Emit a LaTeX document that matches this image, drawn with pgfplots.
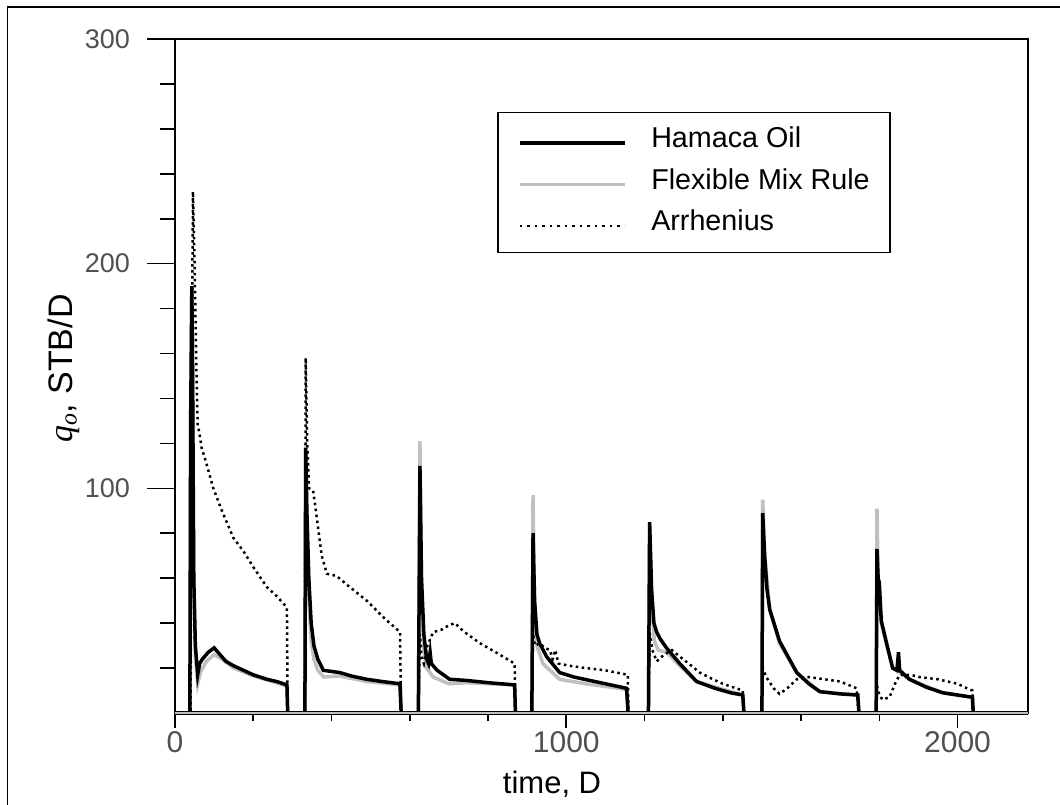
\documentclass[border=0pt]{standalone}
\usepackage{fontspec}
\setmainfont{Liberation Sans}
\newfontfamily\seriffont{Liberation Serif}
\usepackage{pgfplots}
\pgfplotsset{compat=1.18}
\definecolor{flexgray}{RGB}{192,192,192}
\definecolor{tickgray}{RGB}{80,80,80}

\begin{document}
\begin{tikzpicture}[x=1pt,y=1pt]
\useasboundingbox (0,0) rectangle (1060,804);
\fill[white] (0,0) rectangle (1060,804);
\draw[line width=1.6pt] (7.3,-5) -- (7.3,796.7) -- (1070,796.7);
\begin{axis}[
  at={(175pt,91pt)}, anchor=south west,
  width=853pt, height=674pt, scale only axis,
  xmin=0, xmax=2180, ymin=0, ymax=300,
  clip=false,
  xtick={0,1000,2000}, xticklabels={0,1000,2000},
  minor xtick={200,400,600,800,1200,1400,1600,1800},
  ytick={100,200,300}, yticklabels={100,200,300},
  minor ytick={20,40,60,80,120,140,160,180,220,240,260,280},
  tick align=outside,
  major tick length=28pt, minor tick length=15pt,
  xtick style={/pgfplots/major tick length=15pt,/pgfplots/minor tick length=8pt},
  tick style={line width=1.6pt, black},
  xtick pos=bottom, ytick pos=left,
  axis line style={line width=1.8pt},
  /pgf/number format/assume math mode=true,
  yticklabel style={font=\fontsize{27}{30}\selectfont, text=tickgray, anchor=east, inner sep=0pt, xshift=-17pt},
  xticklabel style={font=\fontsize{30}{33}\selectfont, text=tickgray, anchor=north, inner sep=0pt, yshift=10pt},
  xlabel={time, D},
  every axis x label/.style={at={(axis description cs:0.442,0)}, anchor=base, yshift=-80pt, font=\fontsize{31}{36}\selectfont},
  ylabel={{\seriffont\itshape q\textsubscript{o}}, STB/D},
  every axis y label/.style={at={(axis description cs:-0.1196,0.511)}, rotate=90, anchor=base, font=\fontsize{34}{40}\selectfont},
  legend style={at={(axis description cs:0.3775,0.8917)}, anchor=north west, draw=black, line width=1.5pt, fill=white,
    inner xsep=20pt, inner ysep=14pt, row sep=12.5pt, column sep=25pt,
    font=\fontsize{28.7}{34}\selectfont,
    nodes={inner sep=0pt, text height=21pt, text depth=8pt}},
  legend cell align=left,
  legend image code/.code={\path[draw=none,fill=none] (0pt,-14.5pt) rectangle (105pt,14.5pt); \draw[#1] (0pt,-1.8pt) -- (105pt,-1.8pt);},
]
\addlegendimage{black, line width=3.5pt}
\addlegendimage{flexgray, line width=3.5pt}
\addlegendimage{black, line width=2.5pt, dash pattern=on 2.5pt off 5pt}
\legend{Hamaca Oil, Flexible Mix Rule, Arrhenius}

% Flexible Mix Rule
\addplot[flexgray, line width=3.5pt, forget plot] coordinates {
(0,0) (36,0) (38,0) (40,130) (43,188) (45,150) (48,60) (52,25) (58,13) (65,18) (80,23) (100,26) (120,24) (150,20) (200,16.5) (250,14) (286,12) (288,0) (330,0)
(332,0) (334,120) (337,85) (342,50) (348,32) (355,24) (365,19) (380,16) (420,16.5) (490,14) (575,12.5) (578,0) (620,0)
(622,0) (626,121) (630,55) (636,28) (643,20) (660,16) (700,13) (745,13.5) (868,12.5) (870,0) (910,0)
(912,0) (915,97) (919,45) (925,30) (940,22) (983,15) (1050,13) (1154,10.5) (1158,0) (1208,0)
(1210,0) (1213,84) (1218,50) (1225,32) (1235,28) (1256,27) (1290,21) (1333,14) (1451,8) (1454,0) (1498,0)
(1500,0) (1502,95) (1507,70) (1520,46) (1545,31) (1589,18) (1648,9.5) (1745,8) (1748,0) (1790,0)
(1792,0) (1794,91) (1797,60) (1805,40) (1834,20) (1860,17) (1877,15) (1962,9) (2038,7) (2040,0)
};

% Hamaca Oil
\addplot[black, line width=3.5pt, forget plot] coordinates {
(0,0) (36,0) (38,0) (40,130) (43,190) (45,150) (48,60) (52,30) (58,17) (63,22) (70,24) (85,27) (100,29) (115,26) (130,23) (150,21) (175,19) (200,17) (235,15) (260,14) (286,12.5) (288,0) (330,0)
(332,0) (334,118) (337,90) (342,60) (348,40) (355,30) (365,24) (379,19) (400,18.5) (421,18) (450,16.5) (490,15) (530,14) (575,13) (578,0) (620,0)
(622,0) (626,110) (630,60) (636,35) (643,24) (648,22) (652,27) (655,22) (670,19) (702,15) (745,14.5) (800,13.5) (868,12.5) (870,0) (910,0)
(912,0) (915,80) (919,50) (925,35) (932,31) (950,25) (983,18) (1020,16) (1060,14.5) (1100,13) (1154,11) (1158,0) (1208,0)
(1210,0) (1213,85) (1218,55) (1224,40) (1231,36) (1240,33) (1256,29) (1290,22) (1333,14) (1380,11) (1420,9) (1451,8) (1454,0) (1498,0)
(1500,0) (1502,89) (1507,70) (1513,55) (1520,46) (1545,32) (1570,24) (1589,18) (1620,13) (1648,9.5) (1700,8.5) (1745,8) (1748,0) (1790,0)
(1792,0) (1794,73) (1797,60) (1800,58) (1805,41) (1820,30) (1834,20) (1845,19) (1849,27) (1852,19) (1877,15) (1920,11.5) (1962,9) (2000,8) (2038,7) (2040,0)
};

% Arrhenius
\addplot[black, line width=2.5pt, dash pattern=on 2.5pt off 3.5pt, forget plot] coordinates {
(0,0) (38,0) (40,0) (42,140) (46,232) (50,200) (55,150) (58,128) (62,125) (68,118) (77,113) (98,100) (120,90) (149,78) (175,72) (200,65) (235,56) (260,52) (286,47) (288,0) (330,0)
(332,0) (334,158) (338,120) (343,100) (353,99) (360,90) (375,70) (388,62) (413,61) (440,57) (490,50) (530,43) (575,36) (578,0) (620,0)
(622,0) (626,35) (630,25) (636,22) (645,30) (660,36) (680,37) (700,39) (715,40) (740,36) (780,31) (820,27) (868,22) (870,0) (910,0)
(912,0) (915,35) (920,30) (932,31) (945,29) (958,28) (965,24) (972,28) (980,22) (1009,21) (1050,20) (1100,19) (1157,17) (1159,0) (1208,0)
(1210,0) (1213,36) (1220,28) (1231,23) (1250,26) (1270,28) (1298,24) (1320,21) (1341,18) (1375,15) (1400,13) (1451,10) (1453,0) (1498,0)
(1500,0) (1502,20) (1511,16) (1530,11) (1545,8.5) (1565,11) (1589,15) (1620,16) (1660,15) (1700,14) (1742,11) (1747,0) (1790,0)
(1792,0) (1794,12) (1800,8) (1808,6) (1826,7) (1840,13) (1852,17) (1880,17) (1903,16) (1950,15) (2000,13) (2030,10.5) (2038,10) (2040,0)
};

\draw[line width=3.6pt, black] (rel axis cs:0,0) -- (rel axis cs:1,0);
\draw[line width=1.2pt, black!25] (rel axis cs:0,0) -- (rel axis cs:1,0);
\end{axis}
\end{tikzpicture}
\end{document}
